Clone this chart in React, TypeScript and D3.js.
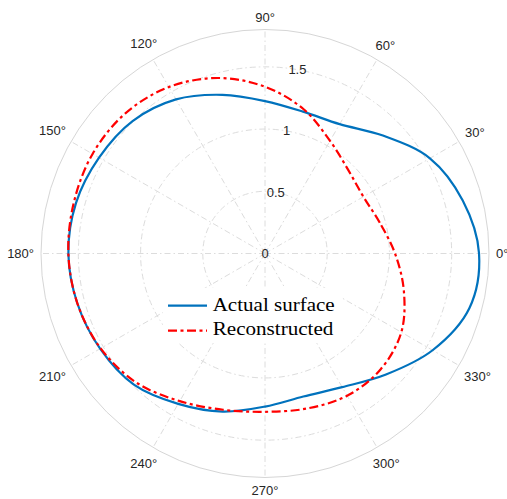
import React from "react";
import * as d3 from "d3";

// Sample angles (degrees, counter-clockwise from east)
const angles = [0, 15, 30, 45, 60, 75, 90, 105, 120, 135, 150, 165, 180, 195, 210, 225, 240, 255, 270, 285, 300, 315, 330, 345];

// Radius of the actual surface at each angle
const actualSurface = [1.72, 1.645, 1.53, 1.34, 1.2, 1.18, 1.225, 1.32, 1.43, 1.505, 1.54, 1.572, 1.58, 1.56, 1.53, 1.49, 1.395, 1.315, 1.23, 1.19, 1.24, 1.375, 1.555, 1.70];

// Radius of the reconstructed surface at each angle
const reconstructed = [1.045, 0.955, 0.913, 0.947, 1.045, 1.2, 1.34, 1.46, 1.545, 1.59, 1.6, 1.59, 1.58, 1.56, 1.525, 1.465, 1.37, 1.3, 1.272, 1.29, 1.32, 1.315, 1.265, 1.155];

const radialTicks = [0, 0.5, 1, 1.5];
const radialTickLabels = ["0", "0.5", "1", "1.5"];
const thetaTicks = [0, 30, 60, 90, 120, 150, 180, 210, 240, 270, 300, 330];
const rMax = 1.8;

const W = 507;
const H = 499;
const cx = 265;
const cy = 253.5;
const outerR = 224;

const textColor = "#262626";
const gridColor = "#dcdcdc";
const axisFont = "'Liberation Sans', Arial, Helvetica, sans-serif";
const legendFont = "'Liberation Serif', 'Times New Roman', serif";
const redDash = "9,3.5,3,3.5";

const rScale = d3.scaleLinear().domain([0, rMax]).range([0, outerR]);
const toRad = (deg: number) => (deg * Math.PI) / 180;

function pathFor(values: number[]) {
  const pts = angles.map((a, i) => [a, values[i]] as [number, number]);
  const line = d3
    .lineRadial<[number, number]>()
    .angle((d) => Math.PI / 2 - toRad(d[0]))
    .radius((d) => rScale(d[1]))
    .curve(d3.curveCatmullRomClosed.alpha(0.5));
  return line(pts) || "";
}

function labelWidth(s: string) {
  let w = 0;
  for (const ch of s) w += ch === "°" ? 5.2 : 7.23;
  return w;
}

export default function App() {
  const gridDash = "6,3,1.5,3";
  return (
    <svg
      width={W}
      height={H}
      style={{ position: "absolute", left: 0, top: 0, background: "#fff" }}
      xmlns="http://www.w3.org/2000/svg"
    >
      <rect x={0} y={0} width={W} height={H} fill="#fff" />
      <g transform={`translate(${cx},${cy})`}>
        {/* concentric grid circles */}
        {radialTicks
          .filter((t) => t > 0)
          .map((t) => (
            <circle
              key={`c${t}`}
              r={rScale(t)}
              fill="none"
              stroke={gridColor}
              strokeWidth={1}
              strokeDasharray={gridDash}
            />
          ))}
        {/* spokes */}
        {thetaTicks.map((a) => (
          <line
            key={`s${a}`}
            x1={0}
            y1={0}
            x2={outerR * Math.cos(toRad(a))}
            y2={-outerR * Math.sin(toRad(a))}
            stroke={gridColor}
            strokeWidth={1}
            strokeDasharray={gridDash}
          />
        ))}
        {/* outer boundary */}
        <circle r={outerR} fill="none" stroke="#d6d6d6" strokeWidth={1} />

        {/* angle labels */}
        {thetaTicks.map((a) => {
          const s = `${a}°`;
          const w = labelWidth(s);
          const h = 11;
          const t = toRad(a);
          const R = 231 + (w / 2) * Math.abs(Math.cos(t)) + (h / 2) * Math.abs(Math.sin(t));
          return (
            <text
              key={`t${a}`}
              x={R * Math.cos(t)}
              y={-R * Math.sin(t)}
              textAnchor="middle"
              dominantBaseline="central"
              fontFamily={axisFont}
              fontSize={13}
              fill={textColor}
            >
              {s}
            </text>
          );
        })}

        {/* radial labels along 80 degrees */}
        {radialTicks.map((t, i) => {
          const a = toRad(80);
          return (
            <text
              key={`r${t}`}
              x={rScale(t) * Math.cos(a)}
              y={-rScale(t) * Math.sin(a)}
              textAnchor="middle"
              dominantBaseline="central"
              fontFamily={axisFont}
              fontSize={13}
              fill={textColor}
            >
              {radialTickLabels[i]}
            </text>
          );
        })}

        {/* data curves */}
        <path d={pathFor(actualSurface)} fill="none" stroke="#0072BD" strokeWidth={2.2} />
        <path
          d={pathFor(reconstructed)}
          fill="none"
          stroke="#FF0000"
          strokeWidth={2.2}
          strokeDasharray={redDash}
        />
      </g>

      {/* legend */}
      <g>
        <rect x={163} y={288} width={178} height={55} fill="#fff" />
        <line x1={168} x2={207} y1={305.7} y2={305.7} stroke="#0072BD" strokeWidth={2.2} />
        <line
          x1={168}
          x2={207}
          y1={330.7}
          y2={330.7}
          stroke="#FF0000"
          strokeWidth={2.2}
          strokeDasharray={redDash}
        />
        <text
          x={212.7}
          y={310.7}
          fontFamily={legendFont}
          fontSize={19.5}
          fill="#000"
          textLength={122}
          lengthAdjust="spacingAndGlyphs"
        >
          Actual surface
        </text>
        <text
          x={212.7}
          y={335}
          fontFamily={legendFont}
          fontSize={19.5}
          fill="#000"
          textLength={120.7}
          lengthAdjust="spacingAndGlyphs"
        >
          Reconstructed
        </text>
      </g>
    </svg>
  );
}
